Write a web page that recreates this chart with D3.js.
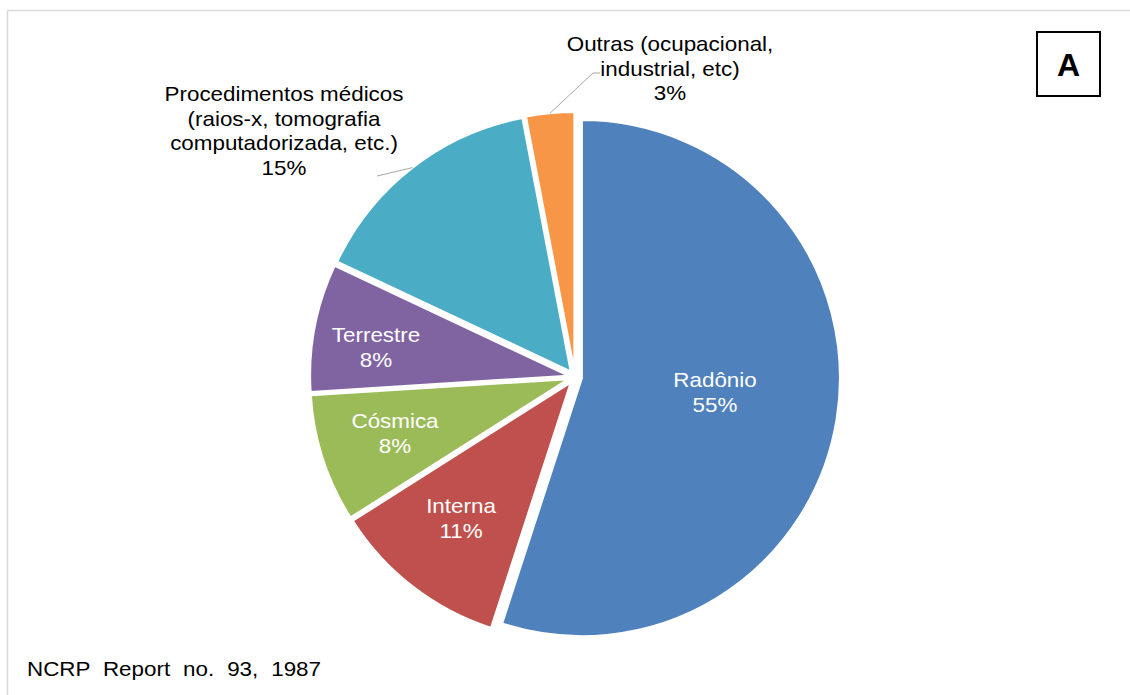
<!DOCTYPE html>
<html><head><meta charset="utf-8">
<script src="https://cdn.jsdelivr.net/npm/d3@7"></script>
<style>body{margin:0;background:#fff}svg{display:block;font-family:"Liberation Sans",Arial,sans-serif}</style>
</head><body><svg id="c" width="1130" height="695"></svg>
<script>
const categories = ["Radônio","Interna","Cósmica","Terrestre","Procedimentos médicos","Outras"];
const values = [55, 11, 8, 8, 15, 3];
const colors = ["#4F81BD","#C0504D","#9BBB59","#8064A2","#4BACC6","#F79646"];
const insideLabels = [["Radônio","55%"],["Interna","11%"],["Cósmica","8%"],["Terrestre","8%"],null,null];
const outsideLabels = [null,null,null,null,
  ["Procedimentos médicos","(raios-x, tomografia","computadorizada, etc.)","15%"],
  ["Outras (ocupacional,","industrial, etc)","3%"]];

const svg = d3.select("#c");
const SX = 1.12; // horizontal stretch of text as in the reference
// frame (top and left border)
svg.append("line").attr("x1",7.5).attr("y1",10.5).attr("x2",1130).attr("y2",10.5).attr("stroke","#d9d9d9").attr("stroke-width",1.5);
svg.append("line").attr("x1",7.5).attr("y1",10.5).attr("x2",7.5).attr("y2",695).attr("stroke","#d9d9d9").attr("stroke-width",1.5);

const cx = 575, cy = 377, R = 258, explode = 7;
const pie = d3.pie().sort(null).value(d => d)(values);
const arc = d3.arc().innerRadius(0).outerRadius(R);
const g = svg.append("g").attr("transform", `translate(${cx},${cy})`);
const mid = d => (d.startAngle + d.endAngle) / 2;
const dir = a => [Math.sin(a), -Math.cos(a)];

g.selectAll("path.s").data(pie).join("path")
  .attr("class","s")
  .attr("d", arc)
  .attr("fill", (d,i) => colors[i])
  .attr("stroke","#fff").attr("stroke-width",2).attr("stroke-linejoin","round")
  .attr("transform", d => { const [x,y] = dir(mid(d)); return `translate(${x*explode},${y*explode})`; });

function block(px, py, lines, fill, lh) {
  const t = g.append("text").attr("text-anchor","middle").attr("fill",fill).attr("font-size",20)
    .attr("transform", `translate(${px},${py}) scale(${SX},1)`);
  lines.forEach((s,k) => t.append("tspan").attr("x",0).attr("y",k*lh + 7).text(s));
}

// inside labels (layout positions relative to pie centre)
const insidePos = [[140,3],[-114,129],[-180,44],[-199,-42]];
pie.forEach((d,i) => {
  const lab = insideLabels[i]; if (!lab) return;
  block(insidePos[i][0], insidePos[i][1], lab, "#fff", 25);
});

// outside labels with leader lines
const outsideAnchor = {4:[284-cx,94-cy], 5:[670-cx,44-cy]};
pie.forEach((d,i) => {
  const lab = outsideLabels[i]; if (!lab) return;
  const [ax,ay] = outsideAnchor[i];
  block(ax, ay, lab, "#000", 24.7);
  const [x,y] = dir(mid(d));
  const ex = x*(R+explode), ey = y*(R+explode);
  let pts;
  if (i===4) pts = [[ax+93, ay+82],[ex,ey]];
  else pts = [[ax-70, ay+29],[ax-77, ay+29],[ex,ey]];
  g.append("path").attr("d", d3.line()(pts)).attr("fill","none").attr("stroke","#a6a6a6").attr("stroke-width",1);
});

// panel label
svg.append("rect").attr("x",1037).attr("y",32).attr("width",63).attr("height",64).attr("fill","#fff").attr("stroke","#000").attr("stroke-width",2);
svg.append("text").attr("x",1068.5).attr("y",76).attr("text-anchor","middle").attr("font-size",32).attr("font-weight","bold").text("A");

// source
svg.append("text").attr("transform","translate(27,676) scale(1.12,1)").attr("font-size",20).attr("fill","#000").attr("word-spacing",6).text("NCRP Report no. 93, 1987");
</script></body></html>
